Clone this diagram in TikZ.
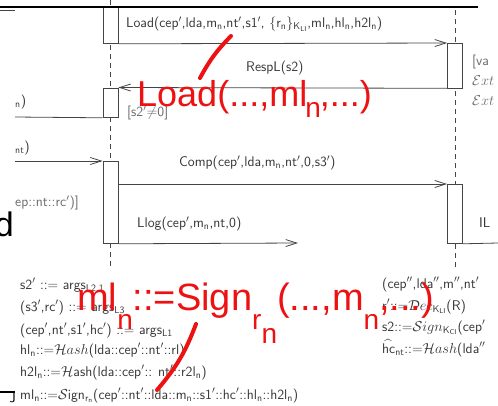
\documentclass[tikz,border=0pt]{standalone}
\usepackage{amsmath,amssymb}
\usepackage{fontspec}
\newfontfamily\annfont{Liberation Sans}
\usetikzlibrary{arrows.meta}
\definecolor{linegrey}{HTML}{454545}
\definecolor{textgrey}{HTML}{353535}
\definecolor{condgrey}{HTML}{6A6A6A}
\definecolor{annred}{HTML}{EE1111}
\newcommand{\lsub}[1]{$_{\mathsf{#1}}$}
\newcommand{\prm}{$'$}
\newcommand{\rsub}[2][.5em]{\raisebox{-#1}{\fontsize{28}{28}\selectfont #2}}

\begin{document}
\begin{tikzpicture}[x=1pt, y=-1pt,
  lbl/.style={font=\sffamily\fontsize{14}{17}\selectfont, text=textgrey, inner sep=0pt},
  cond/.style={lbl, text=condgrey},
  actbox/.style={draw=linegrey, fill=white, minimum width=15pt, inner sep=0pt, line width=0.8pt},
  life/.style={draw=linegrey, dash pattern=on 5pt off 4pt, line width=0.8pt},
  msgline/.style={draw=linegrey, line width=0.8pt},
  msg/.style={msgline, -{Straight Barb[length=11pt,width=7pt]}},
  ann/.style={font=\annfont\fontsize{38}{38}\selectfont, text=annred, inner sep=0pt, anchor=base west},
  annline/.style={draw=annred, line width=4pt, line cap=round}]
\useasboundingbox (0,0) rectangle (498,405);

% lifelines
\coordinate (ltop) at (110.5,0);
\coordinate (lbot) at (110.5,268);
\coordinate (rtop) at (455,10);
\coordinate (rbot) at (455,270);
\draw[life] (ltop) -- (lbot);
\draw[life] (rtop) -- (rbot);

% activation boxes
\node[actbox, minimum height=36pt, anchor=north] (la) at (110.5,7) {};
\node[actbox, minimum height=29.5pt, anchor=north] (lb) at (110.5,87.5) {};
\node[actbox, minimum height=82pt, anchor=north] (lc) at (110.5,161) {};
\node[actbox, minimum height=44.5pt, anchor=north] (ra) at (455,43) {};
\node[actbox, minimum height=59pt, anchor=north] (rb) at (455,184) {};

% frame edges
\coordinate (topl) at (0,7);
\coordinate (topr) at (478,7);
\coordinate (stubl) at (0,10.5);
\coordinate (stubr) at (15,10.5);
\coordinate (botl) at (0,392);
\coordinate (botr) at (15,392);
\draw[line width=2.5pt] (topl) -- (topr);
\draw[msgline] (stubl) -- (stubr);
\draw[line width=2.5pt] (botl) -- (botr);

% messages
\coordinate (lin1) at (15,117);
\coordinate (lin2) at (15,161);
\coordinate (llogend) at (298,243);
\coordinate (ilout) at (498,243);
\draw[msg] (la.south east) -- (ra.north west);
\draw[msg] (ra.south west) -- (lb.north east);
\draw[msgline] (lb.south west) -- (lin1);
\draw[msg] (lin2) -- (lc.north west);
\draw[msg] (lc.east |- rb.north) -- (rb.north west);
\draw[msg] (lc.south east) -- (llogend);
\draw[msgline] (rb.south east) -- (ilout);

% labels
\node[lbl, anchor=west] (loadlbl) at (126,24) {Load(cep\prm,lda,m\lsub{n},nt\prm,s1\prm, \{r\lsub{n}\}$_{\mathsf{K_{LI}}}$,ml\lsub{n},hl\lsub{n},h2l\lsub{n})};
\node[lbl, anchor=west] (resplbl) at (246,68) {RespL(s2)};
\node[cond, anchor=west] (condlbl) at (127,113) {[s2\prm$\neq$0]};
\node[lbl, anchor=west] (nlbl) at (15,102) {\lsub{n})};
\node[lbl, anchor=west] (ntlbl) at (15,148) {\lsub{nt})};
\node[cond, anchor=west] (rclbl) at (15,203) {ep::nt::rc\prm)]};
\node[lbl, anchor=west] (complbl) at (179,163) {Comp(cep\prm,lda,m\lsub{n},nt\prm,0,s3\prm)};
\node[lbl, anchor=west] (lloglbl) at (137,224) {Llog(cep\prm,m\lsub{n},nt,0)};
\node[lbl, anchor=west] (illbl) at (479,223) {IL};
\node[cond, anchor=west] (valbl) at (472,62) {[va};
\node[cond, anchor=west] (extone) at (472,81) {$\mathcal{E}xt$};
\node[cond, anchor=west] (exttwo) at (472,101) {$\mathcal{E}xt$};

% definitions below
\node[lbl, anchor=base west] (defa) at (20,289) {s2\prm\ ::= args$_{\mathsf{L2,1}}$};
\node[lbl, anchor=base west] (defb) at (20,311) {(s3\prm,rc\prm) ::= args$_{\mathsf{L3}}$};
\node[lbl, anchor=base west] (defc) at (20,334) {(cep\prm,nt\prm,s1\prm,hc\prm) ::= args$_{\mathsf{L1}}$};
\node[lbl, anchor=base west] (defd) at (20,354) {hl\lsub{n}::=$\mathcal{H}ash$(lda::cep\prm::nt\prm::rl)};
\node[lbl, anchor=base west] (defe) at (20,376) {h2l\lsub{n}::=$\mathcal{H}$ash(lda::cep\prm:: nt\prm::r2l\lsub{n})};
\node[lbl, anchor=base west] (deff) at (20,399) {ml\lsub{n}::=$\mathcal{S}$ign$_{\mathsf{r_n}}$(cep\prm::nt\prm::lda::m\lsub{n}::s1\prm::hc\prm::hl\lsub{n}::h2l\lsub{n})};
\node[lbl, anchor=base west] (defg) at (382,288) {(cep$''$,lda$''$,m$''$,nt$'$};
\node[lbl, anchor=base west] (defh) at (382,310) {r\prm::=$\mathcal{D}ec$$_{\mathsf{K_{LI}}}$(R)};
\node[lbl, anchor=base west] (defi) at (382,331) {s2::=$\mathcal{S}ign$$_{\mathsf{K_{CI}}}$(cep\prm};
\node[lbl, anchor=base west] (defj) at (382,353) {$\widehat{\mathsf{hc}}_{\mathsf{nt}}$::=$\mathcal{H}ash$(lda$''$};

% cut-off letters at the left edge
\node[font=\annfont\fontsize{34}{34}\selectfont, anchor=base east, inner sep=0pt] (dcut) at (14,236) {d};
\node[lbl, text=black, anchor=base east] (jcut) at (16,402) {J};

% red notes
\node[ann, font=\annfont\fontsize{36}{36}\selectfont] (annload) at (137,106) {Load(...,ml\kern-2pt\rsub[.33em]{n}\kern-1pt,...)};
\node[ann] (annsign) at (77,310) {ml\rsub{n}::=Sign\rsub{r\rsub{n}}(...,m\rsub{n},...)};
\coordinate (ptrat) at (231,36);
\coordinate (ptrab) at (200,78);
\coordinate (ptrbt) at (196,324);
\coordinate (ptrbb) at (157,390);
\draw[annline] (ptrat) to[bend right=8] (ptrab);
\draw[annline] (ptrbt) to[bend left=10] (ptrbb);
\end{tikzpicture}
\end{document}
